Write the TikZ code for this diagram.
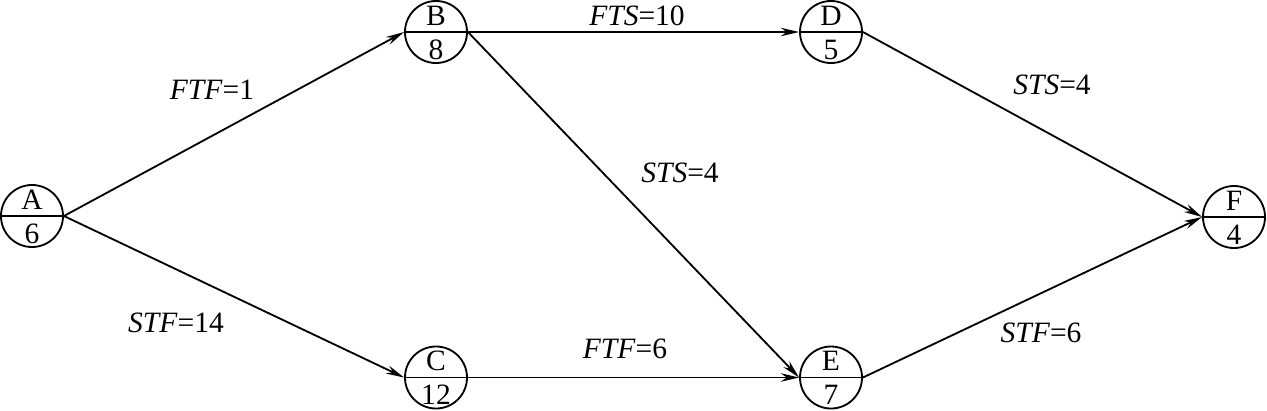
\documentclass[tikz,border=0pt]{standalone}
\usepackage{fontspec}
\setmainfont{Liberation Serif}
\usetikzlibrary{positioning}
\usetikzlibrary{arrows.meta}

% one activity: circle, split line, name on top, duration below
\newcommand{\activity}[4]{%
  \node[work] (#1) at (#2) {};
  \draw[line width=1.3pt] (#1.west) -- (#1.east);
  \node[part,yshift=0.41cm] (#1top) at (#1.center) {#3};
  \node[part,yshift=-0.44cm] (#1bot) at (#1.center) {#4};
}

\begin{document}
\begin{tikzpicture}[x=0.025cm,y=-0.025cm,
  work/.style={circle,draw,line width=1.3pt,minimum size=1.55cm,inner sep=0pt},
  part/.style={inner sep=0pt,font=\fontsize{21}{21}\selectfont},
  link/.style={line width=1.3pt,-{Stealth[length=13pt,width=6pt]}},
  lag/.style={font=\fontsize{21}{21}\selectfont}]
\useasboundingbox (0,0) rectangle (1267,410);

\activity{A}{32,216}{A}{6}
\activity{B}{436,32}{B}{8}
\activity{C}{436,377.5}{C}{12}
\activity{D}{831,32}{D}{5}
\activity{E}{831,377.5}{E}{7}
\activity{F}{1234,217}{F}{4}

\draw[link] (A.east) -- (B.west);
\draw[link] (A.east) -- (C.west);
\draw[link] (B.east) -- (D.west);
\draw[link] (B.east) -- (E.west);
\draw[link] (C.east) -- (E.west);
\draw[link] (D.east) -- (F.west);
\draw[link] (E.east) -- (F.west);

\node[lag] (l1) at (212,90) {\textit{FTF}=1};
\node[lag] (l2) at (176,323) {\textit{STF}=14};
\node[lag] (l3) at (637,16) {\textit{FTS}=10};
\node[lag] (l4) at (680,173) {\textit{STS}=4};
\node[lag] (l5) at (625,349) {\textit{FTF}=6};
\node[lag] (l6) at (1052,85) {\textit{STS}=4};
\node[lag] (l7) at (1041,333) {\textit{STF}=6};

\end{tikzpicture}
\end{document}
